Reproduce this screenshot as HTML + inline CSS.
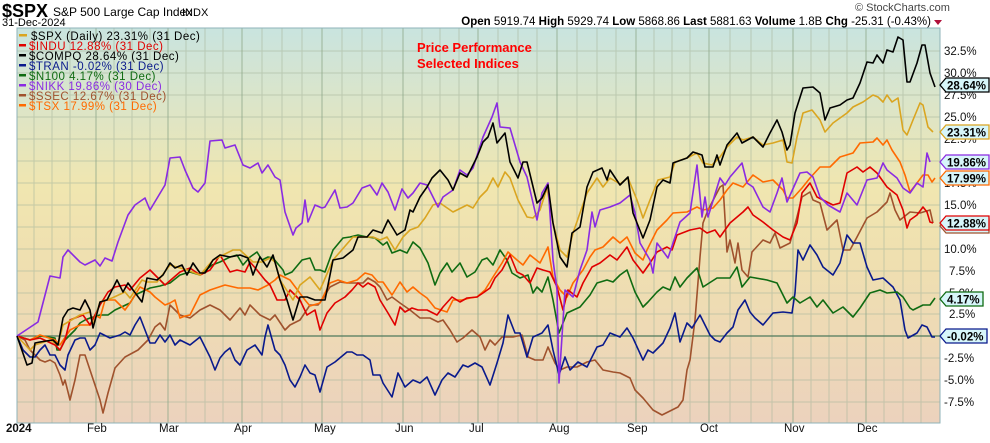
<!DOCTYPE html>
<html><head><meta charset="utf-8"><style>
body{margin:0;background:#fff;width:990px;height:438px;overflow:hidden;font-family:"Liberation Sans",sans-serif}
</style></head><body>
<svg width="990" height="438" xmlns="http://www.w3.org/2000/svg" font-family="Liberation Sans, sans-serif">
<defs>
<linearGradient id="bg" x1="0" y1="0" x2="0" y2="1">
<stop offset="0" stop-color="#c9e4df"/>
<stop offset="0.4" stop-color="#f0e6b0"/>
<stop offset="0.6" stop-color="#efdfb0"/>
<stop offset="1" stop-color="#ecd2bd"/>
</linearGradient>
</defs>
<rect x="17" y="28" width="923" height="395" fill="url(#bg)"/>
<g stroke="#a9b89e" stroke-width="1" opacity="0.6">
<line x1="17" x2="940" y1="51" y2="51"/><line x1="17" x2="940" y1="73" y2="73"/><line x1="17" x2="940" y1="95" y2="95"/><line x1="17" x2="940" y1="117" y2="117"/><line x1="17" x2="940" y1="139" y2="139"/><line x1="17" x2="940" y1="161" y2="161"/><line x1="17" x2="940" y1="183" y2="183"/><line x1="17" x2="940" y1="205" y2="205"/><line x1="17" x2="940" y1="227" y2="227"/><line x1="17" x2="940" y1="249" y2="249"/><line x1="17" x2="940" y1="271" y2="271"/><line x1="17" x2="940" y1="293" y2="293"/><line x1="17" x2="940" y1="314" y2="314"/><line x1="17" x2="940" y1="358" y2="358"/><line x1="17" x2="940" y1="380" y2="380"/><line x1="17" x2="940" y1="402" y2="402"/>
<line y1="28" y2="423" x1="34" x2="34"/><line y1="28" y2="423" x1="52" x2="52"/><line y1="28" y2="423" x1="70" x2="70"/>
<line y1="28" y2="423" x1="114" x2="114"/><line y1="28" y2="423" x1="132" x2="132"/><line y1="28" y2="423" x1="150" x2="150"/>
<line y1="28" y2="423" x1="186" x2="186"/><line y1="28" y2="423" x1="205" x2="205"/><line y1="28" y2="423" x1="223" x2="223"/>
<line y1="28" y2="423" x1="262" x2="262"/><line y1="28" y2="423" x1="282" x2="282"/><line y1="28" y2="423" x1="302" x2="302"/>
<line y1="28" y2="423" x1="342" x2="342"/><line y1="28" y2="423" x1="362" x2="362"/><line y1="28" y2="423" x1="382" x2="382"/>
<line y1="28" y2="423" x1="422" x2="422"/><line y1="28" y2="423" x1="440" x2="440"/><line y1="28" y2="423" x1="459" x2="459"/>
<line y1="28" y2="423" x1="498" x2="498"/><line y1="28" y2="423" x1="518" x2="518"/><line y1="28" y2="423" x1="537" x2="537"/>
<line y1="28" y2="423" x1="577" x2="577"/><line y1="28" y2="423" x1="597" x2="597"/><line y1="28" y2="423" x1="616" x2="616"/>
<line y1="28" y2="423" x1="654" x2="654"/><line y1="28" y2="423" x1="672" x2="672"/><line y1="28" y2="423" x1="690" x2="690"/>
<line y1="28" y2="423" x1="730" x2="730"/><line y1="28" y2="423" x1="751" x2="751"/><line y1="28" y2="423" x1="772" x2="772"/>
<line y1="28" y2="423" x1="811" x2="811"/><line y1="28" y2="423" x1="829" x2="829"/><line y1="28" y2="423" x1="847" x2="847"/>
<line y1="28" y2="423" x1="884" x2="884"/><line y1="28" y2="423" x1="903" x2="903"/><line y1="28" y2="423" x1="921" x2="921"/>
</g>
<g stroke="#8fa88a" stroke-width="1" opacity="0.8">
<line y1="28" y2="423" x1="96" x2="96"/><line y1="28" y2="423" x1="168" x2="168"/><line y1="28" y2="423" x1="242" x2="242"/><line y1="28" y2="423" x1="322" x2="322"/><line y1="28" y2="423" x1="403" x2="403"/><line y1="28" y2="423" x1="478" x2="478"/><line y1="28" y2="423" x1="557" x2="557"/><line y1="28" y2="423" x1="636" x2="636"/><line y1="28" y2="423" x1="709" x2="709"/><line y1="28" y2="423" x1="793" x2="793"/><line y1="28" y2="423" x1="866" x2="866"/>
</g>
<line x1="17" x2="940" y1="336" y2="336" stroke="#4f7a5c" stroke-width="1.3"/>
<rect x="17" y="28" width="923" height="395" fill="none" stroke="#8fb3b8" stroke-width="1"/>
<g fill="none" stroke-width="1.6" stroke-linejoin="round">
<polyline stroke="#a0522d" points="17,336 25,340 30,350 35,355 40,360 45,362 50,360 55,363 60,375 63,385 65,380 70,400 75,380 80,355 85,355 90,370 95,385 100,400 103,413 108,393 115,368 125,357 138,350 148,340 155,327 160,323 165,330 170,305 180,315 190,318 200,310 210,305 220,310 230,320 240,308 245,315 250,305 260,315 270,320 275,315 285,330 290,325 300,320 310,305 318,305 322,300 330,287 340,282 347,283 357,283 363,283 368,278 375,282 380,287 387,300 392,297 400,303 410,310 420,318 430,318 438,322 443,320 450,330 457,342 463,338 472,330 480,337 485,350 490,340 495,345 502,337 513,337 522,335 528,357 535,360 543,360 548,347 555,363 560,370 567,367 577,367 587,362 595,360 603,370 613,372 620,373 630,378 635,390 643,398 653,410 662,415 672,410 678,407 683,400 687,370 690,360 695,320 700,257 703,223 708,210 720,187 723,185 727,252 730,240 735,263 738,243 742,270 748,277 752,252 763,240 770,243 775,233 780,248 790,243 797,217 802,197 810,192 813,200 820,203 827,230 837,220 843,250 850,250 857,237 867,218 877,212 887,202 890,193 895,210 900,220 910,212 920,213 930,210 933,223"/>
<polyline stroke="#0a1a8c" points="17,336 23,350 30,357 35,357 40,350 45,345 50,355 55,355 60,365 65,370 68,355 75,340 80,338 85,338 90,350 95,345 100,333 110,338 120,335 125,332 130,335 135,325 140,317 145,330 150,343 155,343 160,335 165,342 170,335 175,345 180,340 190,345 200,337 210,357 215,370 220,358 225,352 230,348 235,360 240,365 247,350 255,345 262,355 265,337 268,325 275,350 280,355 285,365 290,380 295,387 300,377 305,365 310,373 315,375 320,392 327,367 335,362 347,352 352,352 357,355 363,355 370,360 373,375 380,375 383,383 392,397 398,373 405,387 413,380 420,383 427,377 435,395 442,380 448,373 455,377 463,365 468,367 475,363 482,367 490,385 497,363 503,343 508,315 515,333 520,333 527,357 533,337 542,333 548,325 553,350 559,375 565,357 570,370 578,362 587,367 597,347 603,345 610,333 620,337 627,328 633,338 643,360 648,350 653,353 663,343 670,328 675,313 680,342 687,323 692,328 700,315 710,335 715,340 720,342 727,333 733,327 738,310 745,300 750,312 755,318 763,325 773,313 783,312 792,313 795,293 798,250 803,260 810,245 817,255 823,267 833,275 840,263 847,235 853,243 860,243 867,267 873,280 883,278 893,287 900,300 905,330 908,338 917,333 922,325 927,327 932,337 935,337"/>
<polyline stroke="#0f6b12" points="17,336 30,340 40,336 55,338 57,350 60,350 65,340 70,335 75,330 80,323 85,320 90,318 100,315 108,315 115,310 130,303 135,295 150,288 160,286 170,283 180,275 190,272 200,275 212,265 220,262 230,257 237,255 243,265 250,257 257,252 262,260 268,257 273,258 283,270 285,275 292,272 302,260 310,258 315,270 320,270 325,272 333,250 343,238 350,237 358,235 367,237 375,238 383,245 387,242 392,253 400,250 407,253 413,242 420,248 428,263 435,285 440,273 447,263 452,272 460,263 467,277 475,272 482,260 487,258 493,265 500,250 507,260 512,273 520,278 528,275 533,293 537,287 542,292 548,277 553,300 559,333 567,313 580,307 590,295 597,283 607,280 613,282 620,275 627,270 635,292 643,307 648,302 657,292 663,287 670,290 675,277 680,287 687,278 697,268 703,287 717,278 730,278 737,267 742,287 750,277 767,280 777,283 787,303 793,297 800,303 810,297 817,307 823,300 833,313 843,307 853,317 860,308 870,293 880,290 887,293 897,292 903,297 910,308 913,310 923,305 930,305 935,298"/>
<polyline stroke="#ff6a00" points="17,336 30,340 40,335 55,340 60,345 70,330 80,325 90,325 95,315 100,318 105,300 115,300 125,310 130,303 140,287 150,292 155,297 165,305 170,303 175,300 180,318 185,316 190,315 200,295 210,290 225,285 238,288 250,288 258,290 268,285 275,280 280,275 290,280 305,300 310,306 320,303 330,283 338,280 347,283 357,280 365,273 372,275 378,282 383,282 392,295 400,282 407,292 413,287 420,293 427,298 435,308 447,312 453,300 462,300 470,298 477,297 485,290 493,277 502,263 508,252 517,260 523,265 530,255 540,263 548,247 553,277 560,290 567,297 573,283 583,270 590,257 595,250 603,247 613,237 620,243 627,237 635,253 643,260 647,250 657,230 667,220 673,213 687,212 697,207 703,210 713,208 720,200 727,190 733,183 743,187 753,175 763,182 773,180 783,190 787,198 793,198 802,188 810,178 820,167 830,167 840,157 853,153 860,143 873,142 877,138 883,145 887,140 892,150 900,162 905,175 910,192 917,183 923,175 928,175 932,182 935,178"/>
<polyline stroke="#e00000" points="17,336 30,340 40,338 55,345 60,350 65,340 70,320 75,318 83,315 90,325 100,305 108,292 115,287 125,285 130,290 140,278 150,270 160,280 165,285 180,272 190,268 200,275 210,270 215,263 220,255 230,272 237,270 245,272 250,262 257,270 265,280 270,285 277,300 285,300 290,290 300,300 307,315 315,310 320,330 327,313 335,303 345,297 352,290 358,283 363,287 368,283 375,287 380,300 388,313 395,325 400,307 405,312 412,308 418,310 427,310 437,315 443,307 452,297 460,302 467,298 477,297 483,293 490,288 495,278 502,270 510,255 517,272 523,275 530,283 537,268 543,270 550,272 557,287 563,310 568,290 577,297 583,283 592,267 600,263 610,255 617,260 627,247 633,260 643,273 650,263 657,252 667,247 672,250 677,235 690,230 700,228 707,233 715,230 720,237 730,223 743,212 748,207 753,215 763,222 773,230 783,237 790,240 797,223 802,193 810,183 817,197 823,200 833,205 840,203 847,173 857,167 863,172 870,167 877,173 887,187 897,195 903,210 907,228 910,220 917,215 923,207 927,212 930,222 933,223"/>
<polyline stroke="#daa520" points="17,336 30,350 35,345 50,340 58,345 63,325 80,315 90,312 93,325 100,302 112,298 125,292 130,298 142,280 147,282 157,282 170,265 187,270 200,275 213,260 233,250 240,250 253,262 262,262 270,258 275,262 280,280 293,300 300,285 310,277 320,290 333,260 353,237 363,237 373,237 380,240 387,237 395,250 403,237 410,230 418,227 425,218 433,205 440,203 453,212 467,205 473,208 480,197 487,190 493,178 498,187 505,172 510,178 518,200 527,217 533,218 540,210 547,188 553,223 560,250 567,257 573,233 587,193 597,178 603,187 610,178 620,184 628,178 637,200 643,218 650,200 658,180 670,177 675,162 687,158 697,153 703,163 712,165 720,157 727,147 737,137 743,140 753,137 763,145 773,143 783,140 787,162 792,163 797,137 803,113 812,110 820,120 825,132 833,123 847,113 853,107 863,102 873,95 878,97 883,102 887,95 892,102 898,98 903,130 907,135 913,120 920,103 923,105 928,127 933,132"/>
<polyline stroke="#8a2be2" points="17,336 38,322 50,276 60,278 63,257 68,250 80,262 85,265 95,260 100,266 105,258 112,261 118,242 128,215 135,205 145,198 150,210 165,185 170,158 180,157 185,170 193,188 198,192 205,183 210,141 222,140 225,148 235,145 243,165 250,168 258,163 262,173 268,165 275,177 280,180 285,212 293,235 296,228 302,223 305,200 308,222 315,205 322,208 325,207 335,190 340,208 347,207 353,203 362,188 370,185 377,195 382,183 388,192 395,210 402,189 408,198 413,193 420,183 427,185 438,207 443,197 453,190 460,170 467,175 473,168 483,137 492,117 497,103 500,127 510,128 520,162 527,177 537,220 542,193 548,183 553,260 557,290 559,383 565,290 573,297 580,270 587,250 592,212 595,227 600,210 610,207 620,203 630,195 635,213 640,243 650,260 653,273 657,243 668,258 680,222 690,213 697,165 702,217 705,197 708,217 720,178 725,185 730,177 742,163 747,183 753,187 763,207 770,212 777,193 782,178 787,202 800,173 807,172 813,177 820,197 828,205 840,212 847,193 857,205 867,180 877,178 883,163 887,170 897,178 903,188 910,193 917,183 923,187 927,153 930,162"/>
<polyline stroke="#000" points="17,336 27,365 32,363 35,343 40,342 53,340 58,345 63,318 68,310 73,308 80,310 85,300 90,310 93,328 100,302 107,300 112,290 117,280 123,292 128,283 133,290 142,302 147,278 157,280 163,275 170,263 175,268 182,265 187,275 193,263 200,273 205,273 213,260 220,255 230,257 240,255 248,258 253,275 260,257 267,267 273,255 280,280 287,300 293,320 300,297 307,297 315,300 320,300 325,300 333,260 343,258 353,250 358,237 367,237 373,230 382,233 388,220 397,235 405,230 410,210 413,212 420,197 427,187 432,178 440,170 448,180 453,190 460,173 467,177 477,157 483,142 488,137 493,123 497,143 505,133 510,162 518,178 523,162 527,162 537,203 542,198 548,185 553,223 560,257 567,267 572,233 580,227 587,187 593,172 602,168 607,180 610,170 620,185 628,177 633,213 643,238 650,220 657,187 663,180 670,183 673,163 687,158 693,152 702,155 705,167 713,167 717,155 720,165 727,145 737,133 742,143 753,137 763,147 770,133 777,120 782,132 787,150 790,145 795,113 803,88 813,87 820,93 825,120 830,108 840,105 847,100 853,98 860,83 867,62 873,63 877,55 883,63 887,50 893,52 898,37 903,40 907,82 910,82 917,63 922,45 925,45 930,73 935,87"/>
</g>
<g font-size="11.5" fill="#111">
<text x="944" y="55">32.5%</text><text x="944" y="77">30.0%</text><text x="944" y="99">27.5%</text><text x="944" y="121">25.0%</text><text x="944" y="143">22.5%</text><text x="944" y="165">20.0%</text><text x="944" y="187">17.5%</text><text x="944" y="209">15.0%</text><text x="944" y="231">12.5%</text><text x="944" y="253">10.0%</text><text x="949" y="275">7.5%</text><text x="949" y="297">5.0%</text><text x="949" y="318">2.5%</text><text x="944" y="362">-2.5%</text><text x="944" y="384">-5.0%</text><text x="944" y="406">-7.5%</text>
</g>
<g font-size="11.5" font-weight="bold" fill="#000" stroke-width="1.3">
<path d="M940,85 l6,-7 h43 v14 h-43 z" fill="#d7f6fa" stroke="#000"/><text x="947" y="89.5">28.64%</text>
<path d="M940,132 l6,-7 h43 v14 h-43 z" fill="#d7f6fa" stroke="#daa520"/><text x="947" y="136.5">23.31%</text>
<path d="M940,162 l6,-7 h43 v14 h-43 z" fill="#d7f6fa" stroke="#8a2be2"/><text x="947" y="166.5">19.86%</text>
<path d="M940,178 l6,-7 h43 v14 h-43 z" fill="#d7f6fa" stroke="#ff6a00"/><text x="947" y="182.5">17.99%</text>
<path d="M940,226 l6,-7 h43 v14 h-43 z" fill="#d7f6fa" stroke="#a0522d"/>
<path d="M940,223 l6,-7 h43 v14 h-43 z" fill="#d7f6fa" stroke="#e00000"/><text x="947" y="227.5">12.88%</text>
<path d="M940,299 l6,-7 h37 v14 h-37 z" fill="#d7f6fa" stroke="#0f6b12"/><text x="947" y="303.5">4.17%</text>
<path d="M940,336 l6,-7 h41 v14 h-41 z" fill="#d7f6fa" stroke="#0a1a8c"/><text x="947" y="340.5">-0.02%</text>
</g>
<g font-size="11.5" fill="#111">
<text x="6" y="432" font-weight="bold">2024</text>
<text x="87" y="432">Feb</text><text x="159" y="432">Mar</text><text x="234" y="432">Apr</text><text x="314" y="432">May</text><text x="395" y="432">Jun</text><text x="469" y="432">Jul</text><text x="549" y="432">Aug</text><text x="627" y="432">Sep</text><text x="700" y="432">Oct</text><text x="784" y="432">Nov</text><text x="857" y="432">Dec</text>
</g>
<text x="2" y="17" font-size="18" font-weight="bold" fill="#000">$SPX</text>
<text x="53" y="16" font-size="12" fill="#000">S&amp;P 500 Large Cap Index</text>
<text x="182" y="16" font-size="11" fill="#000">INDX</text>
<text x="2" y="26" font-size="11" fill="#000">31-Dec-2024</text>
<text x="855" y="11" font-size="11" fill="#444">© StockCharts.com</text>
<text x="931" y="25" font-size="11.5" fill="#000" text-anchor="end"><tspan font-weight="bold">Open</tspan> 5919.74  <tspan font-weight="bold">High</tspan> 5929.74  <tspan font-weight="bold">Low</tspan> 5868.86  <tspan font-weight="bold">Last</tspan> 5881.63  <tspan font-weight="bold">Volume</tspan> 1.8B  <tspan font-weight="bold">Chg</tspan> -25.31 (-0.43%)</text>
<path d="M934,20 l8,0 l-4,5 z" fill="#b0103a"/>
<text x="417" y="52" font-size="13" font-weight="bold" fill="#ff0000">Price Performance</text>
<text x="417" y="68" font-size="13" font-weight="bold" fill="#ff0000">Selected Indices</text>
<g font-size="11.5" letter-spacing="0.5">
<rect x="19" y="34" width="8" height="2.5" fill="#daa520"/><text x="31" y="40" fill="#000">$SPX (Daily) 23.31% (31 Dec)</text>
<rect x="19" y="44" width="7" height="2.5" fill="#e00000"/><text x="29" y="50" fill="#e00000">$INDU 12.88% (31 Dec)</text>
<rect x="19" y="54" width="7" height="2.5" fill="#000"/><text x="29" y="60" fill="#000">$COMPQ 28.64% (31 Dec)</text>
<rect x="19" y="64" width="7" height="2.5" fill="#0a1a8c"/><text x="29" y="70" fill="#0a1a8c">$TRAN -0.02% (31 Dec)</text>
<rect x="19" y="74" width="7" height="2.5" fill="#0f6b12"/><text x="29" y="80" fill="#0f6b12">$N100 4.17% (31 Dec)</text>
<rect x="19" y="84" width="7" height="2.5" fill="#8a2be2"/><text x="29" y="90" fill="#8a2be2">$NIKK 19.86% (30 Dec)</text>
<rect x="19" y="94" width="7" height="2.5" fill="#a0522d"/><text x="29" y="100" fill="#a0522d">$SSEC 12.67% (31 Dec)</text>
<rect x="19" y="104" width="7" height="2.5" fill="#ff6a00"/><text x="29" y="110" fill="#ff6a00">$TSX 17.99% (31 Dec)</text>
</g>
</svg>
</body></html>
